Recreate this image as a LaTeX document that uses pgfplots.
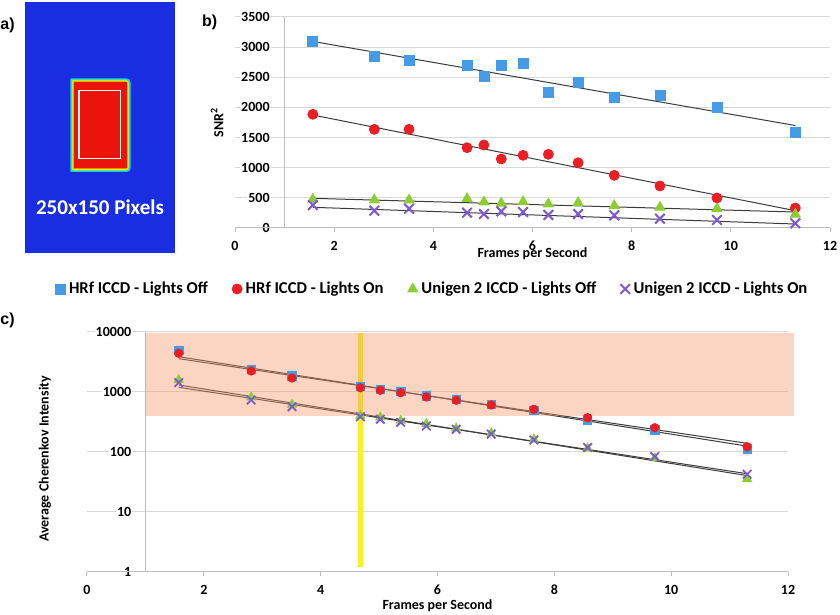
\documentclass[border=0pt]{standalone}
\usepackage{pgfplots}
\pgfplotsset{compat=1.18}
\usepackage{fontspec}
\setmainfont{Carlito}
\newfontfamily\labfont{Liberation Sans}
\definecolor{cblue}{RGB}{70,155,230}
\definecolor{cred}{RGB}{235,30,35}
\definecolor{cgreen}{RGB}{140,205,50}
\definecolor{cpurple}{RGB}{125,90,210}
\definecolor{cgrid}{RGB}{217,217,217}
\definecolor{caxis}{RGB}{190,190,190}
\definecolor{cfit}{RGB}{60,60,60}
\definecolor{corange}{RGB}{245,150,100}
\definecolor{cyellow}{RGB}{250,240,40}
\definecolor{abg}{RGB}{25,45,225}
\definecolor{acyan}{RGB}{0,210,255}
\definecolor{agreen}{RGB}{90,230,110}
\definecolor{ayellow}{RGB}{240,240,0}
\definecolor{aorange}{RGB}{255,130,0}
\definecolor{ared}{RGB}{235,20,10}
\newcommand\tickfont{\fontsize{7}{8}\selectfont\bfseries}
\newcommand\legfont{\fontsize{8.3}{10}\selectfont\bfseries}
\pgfplotsset{
  mk/.style={only marks, legend image code/.code={\draw[##1] plot coordinates {(0pt,0pt)};}},
  fit/.style={cfit, line width=0.5pt, forget plot, no marks},
}
\begin{document}
\begin{tikzpicture}
\useasboundingbox (0,0) rectangle (420pt,307.5pt);
% ---------- panel a ----------
\begin{axis}[at={(12.5pt,181pt)}, anchor=south west, scale only axis,
  width=75pt, height=125.5pt, xmin=25, xmax=175, ymin=2, ymax=253,
  y dir=reverse, hide axis, clip=false]
\addplot[fill=abg, draw=none] coordinates {(25,2) (175,2) (175,253) (25,253)};
\addplot[fill=acyan, draw=none, rounded corners=2pt] coordinates {(70.3,78.5) (130.7,78.5) (130.7,172) (70.3,172)};
\addplot[fill=agreen, draw=none, rounded corners=2pt] coordinates {(71.3,79.5) (129.7,79.5) (129.7,171) (71.3,171)};
\addplot[fill=ayellow, draw=none, rounded corners=1.5pt] coordinates {(72.3,80.5) (128.7,80.5) (128.7,170) (72.3,170)};
\addplot[fill=aorange, draw=none, rounded corners=1pt] coordinates {(73.3,81.5) (127.7,81.5) (127.7,169) (73.3,169)};
\addplot[fill=ared, draw=none] coordinates {(74.3,82.5) (126.7,82.5) (126.7,168) (74.3,168)};
\addplot[draw=white, line width=0.8pt] coordinates {(79,90.5) (120.5,90.5) (120.5,158.5) (79,158.5) (79,90.5)};
\node[text=white, font=\fontsize{10.5}{12}\selectfont\bfseries] at (axis cs:100,207) {250x150 Pixels};
\end{axis}
\node[anchor=west, inner sep=0pt, font=\labfont\fontsize{8}{9}\selectfont\bfseries] at (0pt,295pt) {a)};
\node[anchor=west, inner sep=0pt, font=\labfont\fontsize{8}{9}\selectfont\bfseries] at (100.8pt,296.3pt) {b)};
\node[anchor=west, inner sep=0pt, font=\labfont\fontsize{8}{9}\selectfont\bfseries] at (0pt,147.3pt) {c)};
% ---------- panel b ----------
\begin{axis}[at={(117.5pt,193.5pt)}, anchor=south west, scale only axis,
  width=297.5pt, height=105.5pt,
  xmin=0, xmax=12, ymin=0, ymax=3500,
  xtick={0,2,...,12}, xticklabels={0,2,4,6,8,10,12},
  ytick={0,500,...,3500}, yticklabels={0,500,1000,1500,2000,2500,3000,3500},
  axis line style={draw=none},
  ymajorgrids, grid style={cgrid, line width=0.5pt},
  xtick pos=left, ytick pos=left, xtick align=outside, major tick length=2pt,
  xtick style={caxis, line width=0.5pt}, ytick style={draw=none},
  ticklabel style={font=\tickfont},
  xticklabel style={anchor=center, yshift=-7pt},
  yticklabel style={anchor=east, xshift=18pt, fill=white, inner sep=0.5pt},
  xlabel={Frames per Second},
  xlabel style={at={(axis description cs:0.5,-0.1232)}, anchor=center, font=\tickfont},
  ylabel={SNR\textsuperscript{2}},
  ylabel style={at={(axis description cs:-0.030,0.5)}, anchor=center, font=\tickfont},
  clip=false,
  legend columns=4,
  legend style={at={(axis description cs:-0.3025,-0.289)}, anchor=west, draw=none, fill=none,
    inner sep=0pt, font=\legfont, nodes={inner sep=0.6pt},
    column sep=1.2pt, /tikz/every even column/.append style={column sep=11.5pt}},
]
\draw[caxis, line width=0.5pt] (axis cs:0,0) -- (axis cs:12,0);
\draw[caxis, line width=0.5pt] (axis cs:1,0) -- (axis cs:1,3500);
\addplot[mk, mark=square*, mark size=2.5pt, mark options={draw=cblue, fill=cblue}] coordinates {
(1.57,3090) (2.81,2842) (3.51,2781) (4.68,2704) (5.02,2510) (5.37,2704) (5.81,2725)
(6.32,2244) (6.92,2410) (7.65,2168) (8.57,2206) (9.72,2002) (11.3,1592)};
\addlegendentry{HRf ICCD - Lights Off}
\addplot[mk, mark=*, mark size=2.5pt, mark options={draw=cred, fill=cred}] coordinates {
(1.57,1886) (2.81,1637) (3.51,1637) (4.68,1332) (5.02,1377) (5.37,1145) (5.81,1206)
(6.32,1222) (6.92,1083) (7.65,874) (8.57,697) (9.72,498) (11.3,332)};
\addlegendentry{HRf ICCD - Lights On}
\addplot[mk, mark=triangle*, mark size=2.9pt, mark options={draw=cgreen, fill=cgreen}] coordinates {
(1.57,476) (2.81,464) (3.51,464) (4.68,486) (5.02,431) (5.37,410) (5.81,436)
(6.32,398) (6.92,420) (7.65,370) (8.57,343) (9.72,320) (11.3,227)};
\addlegendentry{Unigen 2 ICCD - Lights Off}
\addplot[mk, mark=x, mark size=3.4pt, mark options={draw=cpurple, line width=1pt}] coordinates {
(1.57,381) (2.81,287) (3.51,320) (4.68,254) (5.02,232) (5.37,276) (5.81,265)
(6.32,216) (6.92,232) (7.65,210) (8.57,154) (9.72,133) (11.3,78)};
\addlegendentry{Unigen 2 ICCD - Lights On}
\addplot[fit] coordinates {(1.57,3095) (11.3,1700)};
\addplot[fit] coordinates {(1.57,1874) (11.3,287)};
\addplot[fit] coordinates {(1.57,492) (11.3,265)};
\addplot[fit] coordinates {(1.57,343) (11.3,66)};
\end{axis}
% ---------- panel c ----------
\begin{axis}[at={(43.5pt,21.65pt)}, anchor=south west, scale only axis,
  width=350.5pt, height=120pt,
  xmin=0, xmax=12, ymode=log, ymin=1, ymax=10000,
  xtick={0,2,...,12}, xticklabels={0,2,4,6,8,10,12},
  ytick={1,10,100,1000,10000}, yticklabels={1,10,100,1000,10000},
  yminorticks=false,
  axis line style={draw=none},
  ymajorgrids, grid style={cgrid, line width=0.5pt},
  xtick pos=left, ytick pos=left, xtick align=outside, major tick length=2pt,
  xtick style={caxis, line width=0.5pt}, ytick style={draw=none},
  ticklabel style={font=\tickfont},
  xticklabel style={anchor=center, yshift=-7pt},
  yticklabel style={anchor=east, xshift=22.8pt, fill=white, inner sep=0.5pt},
  xlabel={Frames per Second},
  xlabel style={at={(axis description cs:0.5,-0.1417)}, anchor=center, font=\tickfont},
  ylabel={Average Cherenkov Intensity},
  ylabel style={at={(axis description cs:-0.0599,0.47)}, anchor=center, font=\tickfont},
  clip=false,
]
\draw[caxis, line width=0.5pt] (axis cs:0,1) -- (axis cs:12,1);
\draw[caxis, line width=0.5pt] (axis cs:1,1) -- (axis cs:1,10000);
\addplot[cyellow, line width=2.5pt, forget plot] coordinates {(4.69,1.2) (4.69,9600)};
\addplot[mk, mark=square*, mark size=2.1pt, mark options={draw=cblue, fill=cblue}] coordinates {
(1.57,4823) (2.81,2363) (3.51,1828) (4.68,1212) (5.02,1097) (5.37,1000) (5.81,848)
(6.32,747) (6.92,617) (7.65,482) (8.57,338) (9.72,230) (11.3,111)};
\addplot[mk, mark=*, mark size=2.1pt, mark options={draw=cred, fill=cred}] coordinates {
(1.57,4365) (2.81,2213) (3.51,1692) (4.68,1166) (5.02,1055) (5.37,962) (5.81,816)
(6.32,719) (6.92,600) (7.65,509) (8.57,369) (9.72,251) (11.3,121)};
\addplot[mk, mark=triangle*, mark size=2.6pt, mark options={draw=cgreen, fill=cgreen}] coordinates {
(1.57,1567) (2.81,807) (3.51,607) (4.68,398) (5.02,374) (5.37,329) (5.81,290)
(6.32,245) (6.92,203) (7.65,161) (8.57,114) (9.72,78) (11.3,35)};
\addplot[mk, mark=x, mark size=3pt, mark options={draw=cpurple, line width=0.9pt}] coordinates {
(1.57,1413) (2.81,727) (3.51,562) (4.68,383) (5.02,347) (5.37,309) (5.81,268)
(6.32,236) (6.92,197) (7.65,157) (8.57,117) (9.72,83) (11.3,42)};
\addplot[fit] coordinates {(1.57,3830) (11.3,124)};
\addplot[fit] coordinates {(1.57,3550) (11.3,138)};
\addplot[fit] coordinates {(1.57,1294) (11.3,40)};
\addplot[fit] coordinates {(1.57,1183) (11.3,43)};
\addplot[fill=corange, fill opacity=0.4, draw=none, forget plot] coordinates {(1,395) (12.1,395) (12.1,9600) (1,9600)};
\end{axis}
\end{tikzpicture}
\end{document}
